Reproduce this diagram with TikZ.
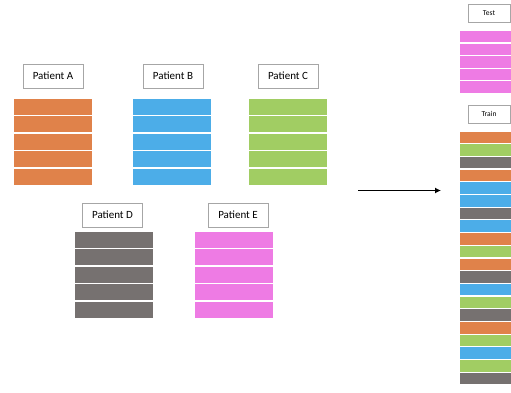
\documentclass[tikz,border=0pt]{standalone}
\usepackage{fontspec}
\setmainfont{Carlito}
\usetikzlibrary{arrows.meta}
\definecolor{cA}{HTML}{E0824A}
\definecolor{cB}{HTML}{4CADE8}
\definecolor{cC}{HTML}{A1CD63}
\definecolor{cD}{HTML}{767170}
\definecolor{cE}{HTML}{EE7BE4}
\definecolor{edge}{HTML}{A6A6A6}
\begin{document}
\begin{tikzpicture}[x=1pt,y=-1pt,
  lab/.style={draw=edge, fill=white, line width=0.7pt, minimum width=60pt, minimum height=24pt, inner sep=0pt, font=\fontsize{11}{13}\selectfont},
  slab/.style={lab, minimum width=42pt, minimum height=18pt, font=\fontsize{7.5}{9}\selectfont},
  arr/.style={-{Latex[length=6pt,width=6pt]}, line width=1.5pt, black}]
\useasboundingbox (0,0) rectangle (511,392);
\fill[white] (0,0) rectangle (511,392);
% labels
\node[lab] (labA) at (53,76) {Patient A};
\node[lab] (labB) at (173,76) {Patient B};
\node[lab] (labC) at (288,76) {Patient C};
\node[lab] (labD) at (112.5,215) {Patient D};
\node[lab] (labE) at (238,215) {Patient E};
\node[slab] (test) at (489,13) {Test};
\node[slab] (train) at (489,114) {Train};
% patient stacks
\foreach \x/\y/\c in {14/99/cA, 133/99/cB, 249/99/cC, 75/232/cD, 195/232/cE}{
  \foreach \i in {0,...,4}{
    \fill[\c] (\x,\y+\i*17.4) rectangle (\x+78,\y+\i*17.4+16);
  }
}
% test stack
\foreach \i in {0,...,4}{
  \fill[cE] (460,31+\i*12.6) rectangle (511,31+\i*12.6+11.4);
}
% train stack
\foreach \c [count=\i from 0] in {cA,cC,cD,cA,cB,cB,cD,cB,cA,cC,cA,cD,cB,cC,cD,cA,cC,cB,cC,cD}{
  \fill[\c] (460,131.5+\i*12.7) rectangle (511,131.5+\i*12.7+11.5);
}
% arrow
\coordinate (s) at (358,190.5);
\coordinate (t) at (441,190.5);
\draw[arr] (s) -- (t);
\end{tikzpicture}
\end{document}
